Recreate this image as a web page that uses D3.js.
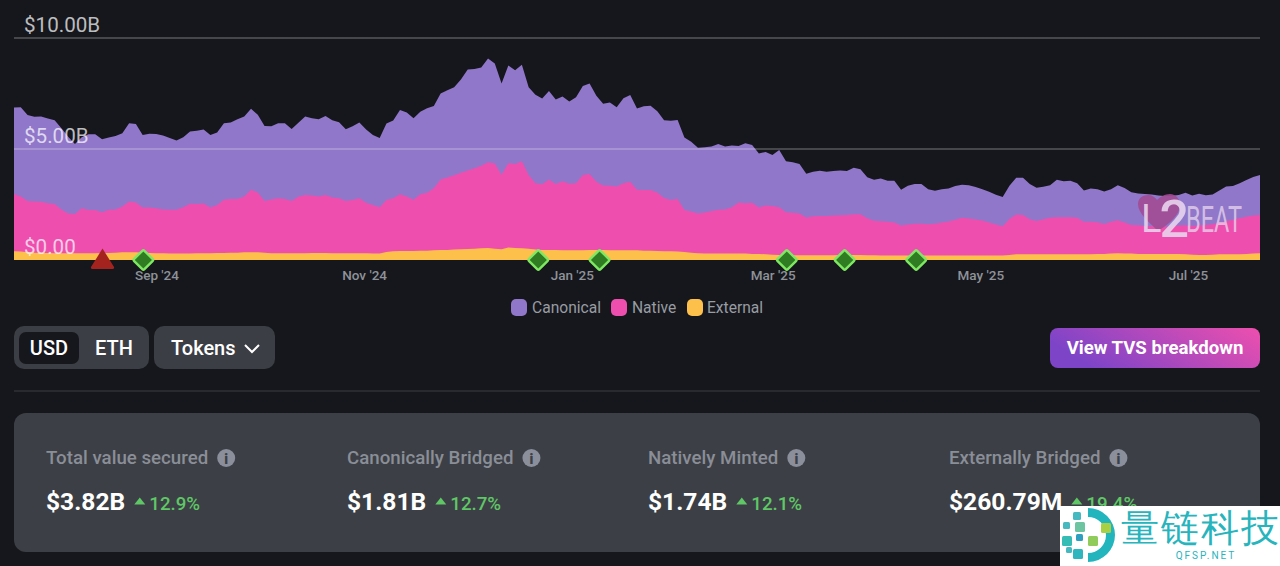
<!DOCTYPE html>
<html>
<head>
<meta charset="utf-8">
<script src="https://cdn.jsdelivr.net/npm/d3@7"></script>
<style>
html, body { margin: 0; padding: 0; background: #16171c; }
svg { display: block; }
text { font-family: Roboto, sans-serif; }
</style>
</head>
<body>
<div id="chart"></div>
<script>
// values in $B, one reading about every two days from Jul 21 2024 to Jul 22 2025
const canonical = [3.90,4.02,3.87,3.81,3.84,3.81,3.78,3.65,3.45,3.15,3.20,3.41,3.41,3.29,3.26,3.30,3.30,3.53,3.54,3.26,3.33,3.35,3.33,3.23,3.12,3.15,3.26,3.30,3.33,3.26,3.26,3.45,3.44,3.59,3.60,3.65,3.50,3.38,3.30,3.38,3.41,3.24,3.33,3.53,3.48,3.48,3.56,3.48,3.42,3.23,3.32,3.41,3.30,3.15,3.11,3.45,3.50,3.80,3.78,3.68,3.72,3.80,
  3.71,3.87,3.93,3.96,4.20,4.55,4.47,4.43,4.68,4.50,4.11,4.40,4.23,4.34,3.95,3.98,3.87,3.98,3.81,3.81,3.71,3.87,4.01,4.08,3.87,3.68,3.74,3.57,3.83,3.90,3.66,3.78,3.80,3.66,3.51,3.57,3.56,3.27,3.15,2.97,2.94,2.90,2.96,2.84,2.78,2.55,2.70,2.60,2.43,2.42,2.30,2.58,2.30,2.27,2.22,1.97,2.01,2.04,2.00,2.01,2.01,1.98,
  2.10,2.03,1.85,1.85,1.92,1.85,1.88,1.61,1.74,1.79,1.79,1.58,1.49,1.50,1.49,1.52,1.49,1.50,1.47,1.41,1.38,1.34,1.32,1.49,1.65,1.68,1.58,1.49,1.46,1.47,1.68,1.62,1.64,1.56,1.41,1.50,1.49,1.46,1.47,1.58,1.55,1.47,1.44,1.44,1.43,1.40,1.38,1.37,1.38,1.46,1.37,1.41,1.34,1.34,1.44,1.56,1.52,1.58,1.65,1.74,1.80];
const native = [2.58,2.48,2.31,2.31,2.30,2.24,2.22,1.98,1.80,1.77,2.03,1.95,1.95,1.83,1.94,1.95,2.06,2.28,2.24,2.04,2.04,2.03,1.98,1.97,1.97,2.09,2.24,2.22,2.25,2.07,2.16,2.39,2.42,2.42,2.51,2.81,2.69,2.33,2.43,2.48,2.45,2.36,2.55,2.63,2.58,2.54,2.61,2.52,2.48,2.36,2.40,2.48,2.28,2.19,2.09,2.34,2.39,2.55,2.45,2.30,2.54,2.61,
  2.79,3.18,3.27,3.35,3.45,3.53,3.62,3.71,3.86,3.84,3.36,3.80,3.78,3.92,3.32,2.99,2.96,3.18,2.97,3.11,2.99,3.02,3.39,3.42,3.08,2.91,2.91,2.87,3.02,3.09,2.72,2.73,2.73,2.63,2.40,2.31,2.37,1.89,1.85,1.79,1.85,1.92,1.97,1.98,2.09,2.30,2.27,2.31,2.10,2.19,2.19,2.15,1.92,1.92,1.89,1.71,1.76,1.77,1.77,1.79,1.79,1.80,
  1.83,1.83,1.67,1.56,1.55,1.52,1.49,1.35,1.40,1.43,1.43,1.41,1.43,1.49,1.53,1.61,1.70,1.67,1.62,1.58,1.49,1.40,1.32,1.62,1.79,1.77,1.58,1.50,1.58,1.64,1.67,1.67,1.67,1.64,1.46,1.46,1.43,1.35,1.43,1.49,1.40,1.29,1.29,1.26,1.25,1.23,1.23,1.25,1.28,1.31,1.29,1.34,1.35,1.37,1.43,1.49,1.55,1.62,1.68,1.71,1.73];
const external = [.39,.38,.35,.33,.32,.32,.30,.30,.30,.30,.30,.30,.30,.32,.32,.33,.35,.35,.35,.33,.32,.30,.30,.29,.29,.29,.29,.30,.30,.30,.32,.32,.33,.33,.35,.35,.35,.33,.30,.30,.30,.30,.30,.30,.32,.32,.32,.30,.30,.30,.30,.30,.30,.29,.29,.36,.39,.41,.41,.41,.42,.42,
  .44,.45,.45,.47,.48,.50,.51,.53,.54,.51,.48,.56,.54,.53,.51,.47,.45,.45,.45,.44,.44,.44,.44,.45,.45,.45,.44,.44,.44,.44,.44,.42,.42,.41,.39,.39,.38,.36,.33,.30,.29,.29,.29,.29,.29,.29,.29,.27,.27,.26,.24,.23,.23,.21,.21,.21,.21,.21,.21,.21,.23,.23,
  .23,.23,.21,.21,.20,.20,.20,.20,.20,.20,.20,.20,.20,.20,.20,.20,.20,.20,.20,.20,.20,.20,.20,.23,.26,.26,.26,.26,.26,.26,.26,.26,.26,.26,.26,.26,.27,.27,.29,.30,.29,.29,.27,.27,.27,.27,.27,.27,.27,.26,.24,.23,.23,.24,.26,.26,.26,.26,.27,.29,.30];

const startDate = new Date(2024, 6, 21);
const endDate = new Date(2025, 6, 22);
const dayStep = (endDate - startDate) / (canonical.length - 1);
const dates = canonical.map((_, i) => new Date(+startDate + i * dayStep));

const seriesKeys = ["Canonical", "Native", "External"];
const seriesColors = ["#9077c9", "#ee4fae", "#fcc04b"];
const yTicks = [0, 5, 10];
const yTickLabels = ["$0.00", "$5.00B", "$10.00B"];
const xTicks = [new Date(2024, 8, 1), new Date(2024, 10, 1), new Date(2025, 0, 1), new Date(2025, 2, 1), new Date(2025, 4, 1), new Date(2025, 6, 1)];
const xTickLabels = ["Sep '24", "Nov '24", "Jan '25", "Mar '25", "May '25", "Jul '25"];
const warningDates = [new Date(2024, 7, 16)];
const updateDates = [new Date(2024, 7, 28), new Date(2024, 11, 22), new Date(2025, 0, 9), new Date(2025, 2, 5), new Date(2025, 2, 22), new Date(2025, 3, 12)];

const statNames = ["Total value secured", "Canonically Bridged", "Natively Minted", "Externally Bridged"];
const statValues = ["$3.82B", "$1.81B", "$1.74B", "$260.79M"];
const statChanges = ["12.9%", "12.7%", "12.1%", "19.4%"];

const width = 1280, height = 566;
const svg = d3.select("#chart").append("svg").attr("width", width).attr("height", height);
const defs = svg.append("defs");
const grad = defs.append("linearGradient").attr("id", "btn").attr("x1", 0).attr("x2", 1).attr("y1", 0.3).attr("y2", 0);
grad.append("stop").attr("offset", "0%").attr("stop-color", "#7e44c8");
grad.append("stop").attr("offset", "100%").attr("stop-color", "#ee4fae");

const x = d3.scaleTime().domain([startDate, endDate]).range([14, 1260]);
const y = d3.scaleLinear().domain([0, 10]).range([260, 38]);

// stacked areas. each one is filled to the baseline and painted top band first,
// otherwise a dark seam shows between the bands
const rows = dates.map((d, i) => ({ date: d, Canonical: canonical[i], Native: native[i], External: external[i] }));
const stack = d3.stack().keys(["External", "Native", "Canonical"]);
const area = d3.area().x(d => x(d.data.date)).y0(y(0)).y1(d => y(d[1]));
svg.append("g").selectAll("path")
  .data(stack(rows).reverse())
  .join("path")
  .attr("d", area)
  .attr("fill", d => seriesColors[seriesKeys.indexOf(d.key)]);

// gridlines and labels sit on top of the areas
svg.append("g").selectAll("line")
  .data(yTicks.filter(d => d > 0))
  .join("line")
  .attr("x1", 14).attr("x2", 1260)
  .attr("y1", d => y(d)).attr("y2", d => y(d))
  .attr("stroke", "#fff").attr("stroke-opacity", 0.42).attr("stroke-width", 1.2);
svg.append("g").selectAll("text")
  .data(yTicks)
  .join("text")
  .attr("x", 24)
  .attr("y", d => y(d) - 6)
  .attr("fill", "#fff").attr("fill-opacity", 0.72)
  .attr("font-size", 20.6)
  .text((d, i) => yTickLabels[i]);

// logo
const logo = svg.append("g");
logo.append("path")
  .attr("d", "M1158 231 C1150 223 1138 214 1138 204 C1138 198 1143 195 1148 195 C1152 195 1155 197 1157 200 C1160 197 1165 194 1170 194 C1176 194 1180 199 1180 205 C1180 215 1168 225 1158 231 Z")
  .attr("fill", "#a24a93").attr("fill-opacity", 0.9);
const logoMark = logo.append("text").attr("x", 1141).attr("y", 232).attr("fill", "#e8d6ee").attr("fill-opacity", 0.88);
logoMark.append("tspan").attr("font-size", 38).attr("font-weight", 400).text("L");
logoMark.append("tspan").attr("dx", -2).attr("dy", 5).attr("font-size", 52).attr("font-weight", 500).text("2");
logo.append("text").attr("x", 1186).attr("y", 232).attr("font-size", 36).attr("font-weight", 400)
  .attr("textLength", 56).attr("lengthAdjust", "spacingAndGlyphs")
  .attr("fill", "#e8d6ee").attr("fill-opacity", 0.75).text("BEAT");

// x axis
svg.append("g").selectAll("text")
  .data(xTicks)
  .join("text")
  .attr("x", d => x(d))
  .attr("y", 280)
  .attr("text-anchor", "middle")
  .attr("fill", "#8e9299")
  .attr("font-size", 13.5).attr("font-weight", 500)
  .text((d, i) => xTickLabels[i]);

// event markers
svg.append("g").selectAll("path")
  .data(warningDates)
  .join("path")
  .attr("transform", d => `translate(${x(d)},260)`)
  .attr("d", "M0 -11.5 L11.5 7 Q12 9 10 9 L-10 9 Q-12 9 -11.5 7 Z")
  .attr("fill", "#a5231f");
svg.append("g").selectAll("rect")
  .data(updateDates)
  .join("rect")
  .attr("x", -7.25).attr("y", -7.25).attr("width", 14.5).attr("height", 14.5).attr("rx", 1.5)
  .attr("transform", d => `translate(${x(d)},260) rotate(45)`)
  .attr("fill", "#2f7c22").attr("stroke", "#7fe862").attr("stroke-width", 2.4);

// legend
const legendX = [511, 611, 687];
const legendText = [532, 632, 707];
const legend = svg.append("g").selectAll("g").data(seriesKeys).join("g");
legend.append("rect")
  .attr("x", (d, i) => legendX[i]).attr("y", 299).attr("width", 16).attr("height", 17).attr("rx", 5)
  .attr("fill", (d, i) => seriesColors[i]);
legend.append("text")
  .attr("x", (d, i) => legendText[i]).attr("y", 313)
  .attr("fill", "#989ca3").attr("font-size", 15.6)
  .text(d => d);

// controls
svg.append("rect").attr("x", 14).attr("y", 326).attr("width", 135).attr("height", 43).attr("rx", 10).attr("fill", "#3b3e44");
svg.append("rect").attr("x", 19).attr("y", 332).attr("width", 60).attr("height", 32).attr("rx", 7).attr("fill", "#16171c");
svg.append("text").attr("x", 49).attr("y", 354.5).attr("text-anchor", "middle").attr("fill", "#fff").attr("font-size", 20).attr("font-weight", 500).text("USD");
svg.append("text").attr("x", 114).attr("y", 354.5).attr("text-anchor", "middle").attr("fill", "#fff").attr("font-size", 20).attr("font-weight", 500).text("ETH");
svg.append("rect").attr("x", 154).attr("y", 326).attr("width", 121).attr("height", 43).attr("rx", 10).attr("fill", "#3b3e44");
svg.append("text").attr("x", 171).attr("y", 354.5).attr("fill", "#fff").attr("font-size", 20).attr("font-weight", 500).text("Tokens");
svg.append("path").attr("d", "M245 345 L252 352 L259 345").attr("fill", "none").attr("stroke", "#fff").attr("stroke-width", 2);
svg.append("rect").attr("x", 1050).attr("y", 328).attr("width", 210).attr("height", 40).attr("rx", 8).attr("fill", "url(#btn)");
svg.append("text").attr("x", 1155).attr("y", 354).attr("text-anchor", "middle").attr("fill", "#fff").attr("font-size", 18.6).attr("font-weight", 700).text("View TVS breakdown");
svg.append("line").attr("x1", 14).attr("x2", 1260).attr("y1", 391).attr("y2", 391).attr("stroke", "#3b3e44");

// stats panel
svg.append("rect").attr("x", 14).attr("y", 413).attr("width", 1246).attr("height", 139).attr("rx", 12).attr("fill", "#3c3f45");
const statX = [46, 347, 648, 949];
const stats = svg.append("g").selectAll("g").data(statNames).join("g")
  .attr("transform", (d, i) => `translate(${statX[i]},0)`);
stats.append("text").attr("y", 464).attr("fill", "#8a8e97").attr("font-size", 18.7).attr("font-weight", 500).text(d => d);
stats.append("text").attr("class", "val").attr("y", 510).attr("fill", "#fff").attr("font-size", 24.6).attr("font-weight", 700).text((d, i) => statValues[i]);
stats.each(function () {
  const g = d3.select(this);
  const w = g.select("text").node().getComputedTextLength();
  const v = g.select(".val").node().getComputedTextLength();
  const ix = w + 9 + 9;
  g.append("circle").attr("cx", ix).attr("cy", 458).attr("r", 9).attr("fill", "#8a8f9b");
  g.append("text").attr("x", ix).attr("y", 463.5).attr("text-anchor", "middle").attr("fill", "#3c3f45").attr("font-size", 14).attr("font-weight", 900).text("i");
  const i = statNames.indexOf(g.datum());
  g.append("path").attr("d", `M${v + 9} 504.5 L${v + 14.5} 497.5 L${v + 20} 504.5 Z`).attr("fill", "#5fc765");
  g.append("text").attr("x", v + 24).attr("y", 509.5).attr("fill", "#5fc765").attr("font-size", 18.7).attr("font-weight", 500).text(statChanges[i]);
});

// site stamp, bottom right
const stamp = svg.append("g");
stamp.append("rect").attr("x", 1060).attr("y", 506).attr("width", 220).attr("height", 60).attr("fill", "#fff");
stamp.append("path").attr("d", "M1088 508 A27 27 0 0 1 1088 562 L1088 553 A18 18 0 0 0 1088 517 Z").attr("fill", "#22b5bd");
const blockX = [1073, 1063, 1075, 1101, 1062, 1076, 1088, 1066, 1073];
const blockY = [512, 522, 522, 523, 536, 534, 536, 547, 549];
const blockS = [8, 7, 10, 10, 10, 7, 10, 6, 10];
const blockC = ["#46b8c0", "#46b8c0", "#6cc4a0", "#a9cf45", "#35bdb5", "#2f9fc0", "#90cc5c", "#46b8c0", "#2fb5bd"];
stamp.selectAll("rect.block").data(blockX).join("rect").attr("class", "block")
  .attr("x", d => d).attr("y", (d, i) => blockY[i]).attr("width", (d, i) => blockS[i]).attr("height", (d, i) => blockS[i]).attr("rx", 1.5)
  .attr("fill", (d, i) => blockC[i]);
stamp.append("text").attr("x", 1121).attr("y", 541).attr("font-family", "Noto Sans CJK SC").attr("font-size", 38).attr("font-weight", 300)
  .attr("textLength", 158).attr("fill", "#27b4bd").text("量链科技");
stamp.append("text").attr("x", 1206).attr("y", 559).attr("text-anchor", "middle").attr("font-size", 10)
  .attr("letter-spacing", 2).attr("fill", "#27b4bd").text("QFSP.NET");
</script>
</body>
</html>
